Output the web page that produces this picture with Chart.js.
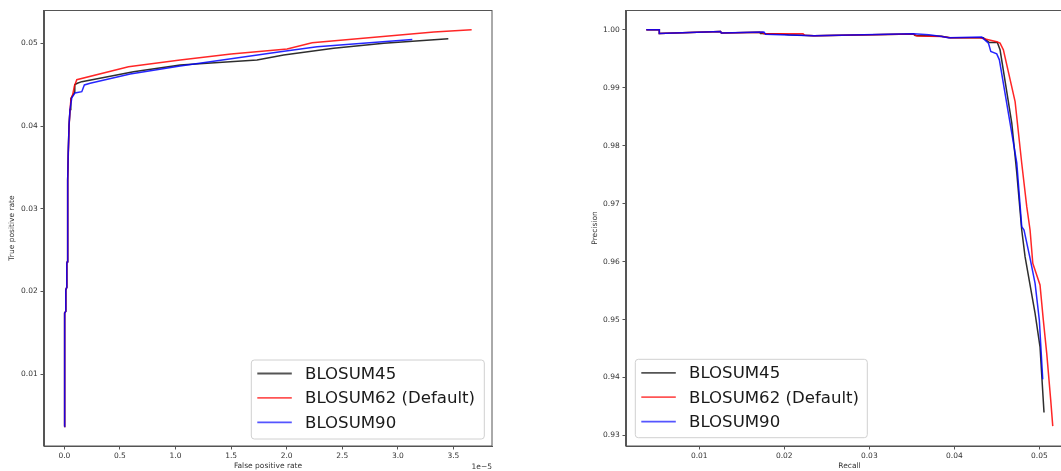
<!DOCTYPE html>
<html>
<head>
<meta charset="utf-8">
<script src="https://cdn.jsdelivr.net/npm/chart.js@4.4.0/dist/chart.umd.min.js"></script>
<style>
  html, body { margin: 0; padding: 0; background: #fff; overflow: hidden; width: 1061px; height: 471px; }
  #roc { position: absolute; left: 0; top: 0; }
  #pr { position: absolute; left: 580px; top: 0; }
</style>
</head>
<body>
<canvas id="roc" width="500" height="471"></canvas>
<canvas id="pr" width="510" height="471"></canvas>
<script>
// ---------- Data: ROC curves (false positive rate in units of 1e-5) ----------
const seriesLabels = ['BLOSUM45', 'BLOSUM62 (Default)', 'BLOSUM90'];

const roc45X = [0.0, 0.0, 0.004, 0.004, 0.013, 0.013, 0.022, 0.022, 0.027, 0.030, 0.035, 0.042, 0.051, 0.058, 0.094, 0.094, 0.117, 0.157, 0.622, 1.042, 1.733, 1.973, 2.423, 2.874, 3.454];
const roc45Y = [0.0037, 0.0055, 0.0058, 0.0174, 0.0176, 0.0202, 0.0205, 0.0234, 0.0236, 0.0335, 0.0367, 0.0400, 0.0420, 0.0433, 0.0441, 0.0450, 0.04517, 0.04536, 0.04657, 0.04738, 0.04798, 0.04859, 0.0494, 0.0500, 0.05056];

const roc62X = [0.0, 0.0, 0.004, 0.004, 0.013, 0.013, 0.022, 0.022, 0.027, 0.030, 0.035, 0.042, 0.051, 0.060, 0.075, 0.090, 0.112, 0.577, 1.042, 1.500, 2.004, 2.229, 3.324, 3.664];
const roc62Y = [0.0037, 0.0055, 0.0058, 0.0174, 0.0176, 0.0202, 0.0205, 0.0234, 0.0236, 0.0335, 0.0362, 0.0398, 0.0420, 0.0433, 0.0438, 0.0448, 0.0456, 0.04717, 0.04798, 0.0487, 0.04931, 0.05007, 0.05137, 0.05164];

const roc90X = [0.0, 0.0, 0.004, 0.004, 0.013, 0.013, 0.022, 0.022, 0.027, 0.030, 0.035, 0.042, 0.051, 0.067, 0.096, 0.157, 0.180, 0.232, 0.592, 1.042, 1.943, 2.274, 3.130];
const roc90Y = [0.0037, 0.0055, 0.0058, 0.0174, 0.0176, 0.0202, 0.0205, 0.0234, 0.0236, 0.0335, 0.0367, 0.0400, 0.0420, 0.0434, 0.0440, 0.04415, 0.04496, 0.04517, 0.04629, 0.04726, 0.04898, 0.04959, 0.05046];

const rocXTicks = [0, 0.5, 1.0, 1.5, 2.0, 2.5, 3.0, 3.5];
const rocXTickLabels = ['0.0', '0.5', '1.0', '1.5', '2.0', '2.5', '3.0', '3.5'];
const rocYTicks = [0.01, 0.02, 0.03, 0.04, 0.05];
const rocYTickLabels = ['0.01', '0.02', '0.03', '0.04', '0.05'];

// ---------- Data: Precision-recall curves ----------
const pr45X = [0.00377, 0.0053, 0.0053, 0.0125, 0.0126, 0.0171, 0.0172, 0.0195, 0.0205, 0.0235, 0.0352, 0.0354, 0.0385, 0.0395, 0.04342, 0.04412, 0.04506, 0.04538, 0.04676, 0.04735, 0.04793, 0.04832, 0.0495, 0.05008, 0.05055];
const pr45Y = [1.0, 1.0, 0.99936, 0.9997, 0.99945, 0.9996, 0.99936, 0.9993, 0.99915, 0.99896, 0.99926, 0.99900, 0.99888, 0.99865, 0.99862, 0.99781, 0.99781, 0.99655, 0.98389, 0.97525, 0.96546, 0.96085, 0.95107, 0.9453, 0.93397];

const pr62X = [0.00377, 0.0053, 0.0053, 0.0125, 0.0126, 0.0174, 0.0176, 0.0222, 0.0224, 0.0235, 0.0352, 0.0356, 0.0385, 0.0395, 0.0430, 0.0450, 0.04538, 0.04577, 0.04715, 0.04793, 0.04852, 0.04891, 0.04923, 0.05008, 0.05047, 0.05087, 0.05134, 0.05158];
const pr62Y = [1.0, 1.0, 0.99936, 0.9997, 0.99945, 0.9996, 0.99930, 0.9993, 0.99905, 0.99896, 0.99926, 0.99895, 0.99885, 0.99865, 0.99862, 0.99793, 0.9977, 0.99655, 0.98762, 0.97698, 0.96948, 0.96546, 0.95971, 0.95596, 0.94991, 0.94416, 0.9361, 0.93161];

const pr90X = [0.00377, 0.0053, 0.0053, 0.0125, 0.0126, 0.0176, 0.0178, 0.0195, 0.0205, 0.0235, 0.0352, 0.0370, 0.0385, 0.0393, 0.04323, 0.04401, 0.04429, 0.04499, 0.0453, 0.04656, 0.04735, 0.04793, 0.0482, 0.04891, 0.0495, 0.0500, 0.0504];
const pr90Y = [1.0, 1.0, 0.99936, 0.9997, 0.99945, 0.99962, 0.99925, 0.99915, 0.99910, 0.99896, 0.99930, 0.99915, 0.99885, 0.99862, 0.99874, 0.9977, 0.99625, 0.99585, 0.99482, 0.98389, 0.97698, 0.96603, 0.96546, 0.96057, 0.95625, 0.94991, 0.93967];

const prXTicks = [0.01, 0.02, 0.03, 0.04, 0.05];
const prXTickLabels = ['0.01', '0.02', '0.03', '0.04', '0.05'];
const prYTicks = [0.93, 0.94, 0.95, 0.96, 0.97, 0.98, 0.99, 1.00];
const prYTickLabels = ['0.93', '0.94', '0.95', '0.96', '0.97', '0.98', '0.99', '1.00'];

// ---------- Styling ----------
const lineColors = ['rgba(0,0,0,0.82)', 'rgba(255,0,0,0.85)', 'rgba(0,0,255,0.85)'];
const handleColors = ['#555555', '#ff5555', '#5555ff'];
const FONT = 'DejaVu Sans';
const TICK_COLOR = '#333';
const SPINE = '#555';

function pts(xs, ys) { return xs.map((x, i) => ({ x: x, y: ys[i] })); }

function makeDatasets(pairs) {
  return pairs.map((p, i) => ({
    label: seriesLabels[i],
    data: pts(p[0], p[1]),
    borderColor: lineColors[i],
    backgroundColor: lineColors[i],
    borderWidth: 1.5,
    pointRadius: 0,
    tension: 0,
    fill: false,
    order: 3 - i
  }));
}

const framePlugin = {
  id: 'frameLegend',
  afterDraw(chart, args, opts) {
    const ctx = chart.ctx;
    const a = chart.chartArea;
    ctx.save();
    // spines
    ctx.strokeStyle = SPINE;
    ctx.lineWidth = 1;
    ctx.strokeRect(Math.round(a.left) - 0.5, Math.round(a.top) + 0.5,
                   Math.round(a.right - a.left) + 0.5, Math.round(a.bottom - a.top) - 0.5);
    // legend
    const L = opts.legend;
    const bx = L.anchor === 'right' ? a.right - L.offsetX - L.w : a.left + L.offsetX;
    const by = a.bottom - L.offsetY - L.h;
    const r = 3;
    ctx.beginPath();
    ctx.moveTo(bx + r, by);
    ctx.lineTo(bx + L.w - r, by);
    ctx.quadraticCurveTo(bx + L.w, by, bx + L.w, by + r);
    ctx.lineTo(bx + L.w, by + L.h - r);
    ctx.quadraticCurveTo(bx + L.w, by + L.h, bx + L.w - r, by + L.h);
    ctx.lineTo(bx + r, by + L.h);
    ctx.quadraticCurveTo(bx, by + L.h, bx, by + L.h - r);
    ctx.lineTo(bx, by + r);
    ctx.quadraticCurveTo(bx, by, bx + r, by);
    ctx.closePath();
    ctx.fillStyle = 'rgba(255,255,255,0.85)';
    ctx.fill();
    ctx.strokeStyle = '#d0d0d0';
    ctx.lineWidth = 1;
    ctx.stroke();
    ctx.font = '16.6px "' + FONT + '"';
    ctx.textBaseline = 'middle';
    ctx.textAlign = 'left';
    seriesLabels.forEach((lab, i) => {
      const yy = by + 13.5 + i * 24.4;
      ctx.strokeStyle = handleColors[i];
      ctx.lineWidth = 1.8;
      ctx.beginPath();
      ctx.moveTo(bx + 6, yy);
      ctx.lineTo(bx + 40.5, yy);
      ctx.stroke();
      ctx.fillStyle = '#1a1a1a';
      ctx.fillText(lab, bx + 53.7, yy + 1);
    });
    // offset text
    if (opts.offsetText) {
      ctx.font = '7.5px "' + FONT + '"';
      ctx.fillStyle = TICK_COLOR;
      ctx.textAlign = 'right';
      ctx.textBaseline = 'middle';
      ctx.fillText(opts.offsetText, a.right, 467);
    }
    ctx.restore();
  }
};

function axis(opts) {
  return {
    type: 'linear',
    min: opts.min,
    max: opts.max,
    afterBuildTicks: (s) => { s.ticks = opts.ticks.map(v => ({ value: v })); },
    afterFit: opts.fit,
    grid: {
      display: true,
      drawOnChartArea: false,
      drawTicks: true,
      tickLength: 3.5,
      tickColor: SPINE,
      tickWidth: 1
    },
    border: { display: true, color: SPINE, width: 1 },
    ticks: {
      autoSkip: false,
      maxRotation: 0,
      padding: opts.pad,
      color: TICK_COLOR,
      font: { family: FONT, size: 7.5 },
      callback: (v, i) => opts.labels[i]
    },
    title: {
      display: true,
      text: opts.title,
      color: TICK_COLOR,
      font: { family: FONT, size: 7.5, lineHeight: 1.2 },
      padding: opts.titlePad
    }
  };
}

function makeChart(id, datasets, cfg) {
  return new Chart(document.getElementById(id), {
    type: 'line',
    data: { datasets: datasets },
    options: {
      responsive: false,
      animation: false,
      devicePixelRatio: 1,
      parsing: true,
      layout: { padding: cfg.padding },
      plugins: {
        legend: { display: false },
        tooltip: { enabled: false },
        frameLegend: { legend: cfg.legend, offsetText: cfg.offsetText }
      },
      scales: {
        x: axis(Object.assign({ fit: (s) => { s.height = 25; }, pad: 2, titlePad: { top: 0, bottom: 0.5 } }, cfg.x)),
        y: axis(Object.assign({ fit: (s) => { s.width = cfg.yWidth; }, pad: 2.8, titlePad: { top: cfg.yTitlePad, bottom: 0 } }, cfg.y))
      }
    },
    plugins: [framePlugin]
  });
}

makeChart('roc', makeDatasets([[roc45X, roc45Y], [roc62X, roc62Y], [roc90X, roc90Y]]), {
  padding: { top: 10, right: 8, left: 0, bottom: 0 },
  yWidth: 44,
  yTitlePad: 7.5,
  offsetText: '1e\u22125',
  legend: { anchor: 'right', offsetX: 7.7, offsetY: 7, w: 233, h: 79 },
  x: { min: -0.183, max: 3.847, ticks: rocXTicks, labels: rocXTickLabels, title: 'False positive rate' },
  y: { min: 0.00133, max: 0.05402, ticks: rocYTicks, labels: rocYTickLabels, title: 'True positive rate' }
});

makeChart('pr', makeDatasets([[pr45X, pr45Y], [pr62X, pr62Y], [pr90X, pr90Y]]), {
  padding: { top: 10, right: 17, left: 0, bottom: 0 },
  yWidth: 46,
  yTitlePad: 10.5,
  offsetText: null,
  legend: { anchor: 'left', offsetX: 9.3, offsetY: 8.3, w: 232, h: 78.4 },
  x: { min: 0.00138, max: 0.05396, ticks: prXTicks, labels: prXTickLabels, title: 'Recall' },
  y: { min: 0.92818, max: 1.00342, ticks: prYTicks, labels: prYTickLabels, title: 'Precision' }
});
</script>
</body>
</html>
